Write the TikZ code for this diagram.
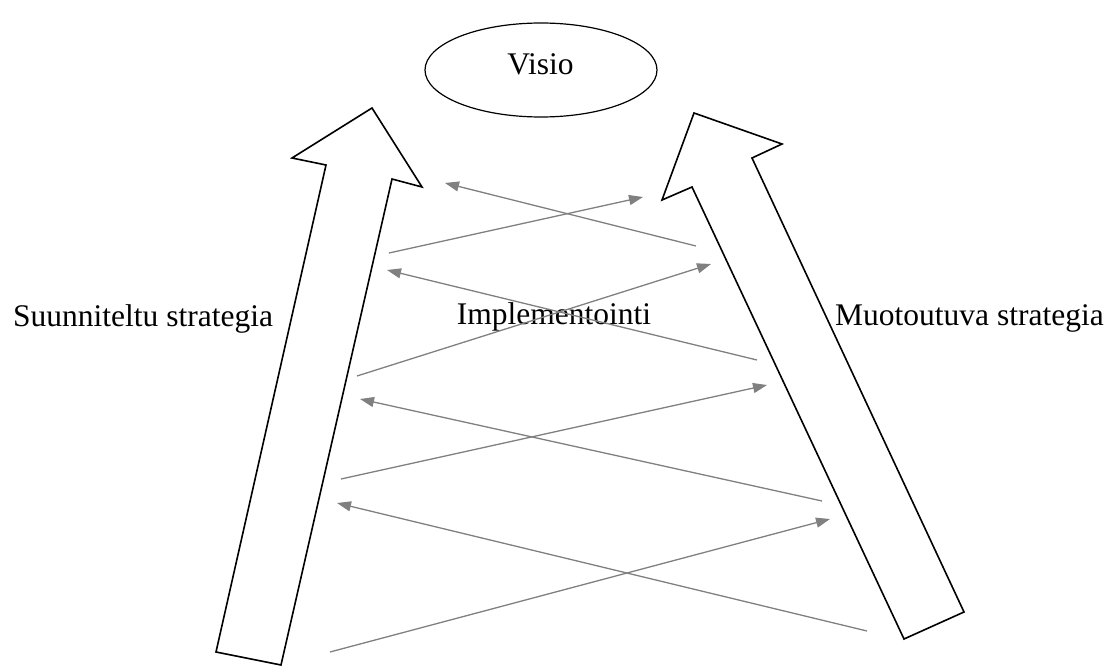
\documentclass[tikz,border=0pt]{standalone}
\usepackage{fontspec}
\setmainfont{Liberation Serif}
\usetikzlibrary{arrows.meta,shapes.geometric}
\begin{document}
\begin{tikzpicture}[x=1pt,y=-1pt,
  bigarrow/.style={draw=black,line width=1.6pt,line join=miter,fill=white},
  flow/.style={draw=black!50,line width=1.3pt,
    -{Triangle[length=14pt,width=10pt]}},
  lbl/.style={font=\fontsize{31.5}{36}\selectfont,inner sep=0pt,anchor=base}]
\useasboundingbox (0,0) rectangle (1116,666);

% vision
\node[draw,ellipse,line width=1.2pt,minimum width=232pt,minimum height=94pt,
  inner sep=0pt] (visio) at (541,70) {};
\node[lbl] (visiotext) at (540.5,75) {Visio};

% planned strategy: big arrow on the left
\draw[bigarrow] (216,652) -- (326,165) -- (292,158) -- (372,108)
  -- (422,187) -- (392,179) -- (281,665) -- cycle;
% emergent strategy: big arrow on the right
\draw[bigarrow] (904,639) -- (692,187) -- (662,200) -- (694,113)
  -- (782,144) -- (752,158) -- (964,612) -- cycle;

\node[lbl,anchor=base west] (planned) at (13,326) {Suunniteltu strategia};
\node[lbl,anchor=base west] (emergent) at (835,325) {Muotoutuva strategia};
\node[lbl] (impl) at (554,324) {Implementointi};

% implementation flows between the two strategies
\coordinate (a1s) at (696,246); \coordinate (a1e) at (445,183);
\coordinate (a2s) at (389,253); \coordinate (a2e) at (643,197);
\coordinate (a3s) at (757,360); \coordinate (a3e) at (387,270);
\coordinate (a4s) at (357,376); \coordinate (a4e) at (711,264);
\coordinate (a5s) at (822,501); \coordinate (a5e) at (360,399);
\coordinate (a6s) at (341,479); \coordinate (a6e) at (767,385);
\coordinate (a7s) at (867,631); \coordinate (a7e) at (337,503);
\coordinate (a8s) at (330,652); \coordinate (a8e) at (830,519);

\foreach \k in {1,...,8}{
  \draw[flow] (a\k s) -- (a\k e);
}
\end{tikzpicture}
\end{document}
